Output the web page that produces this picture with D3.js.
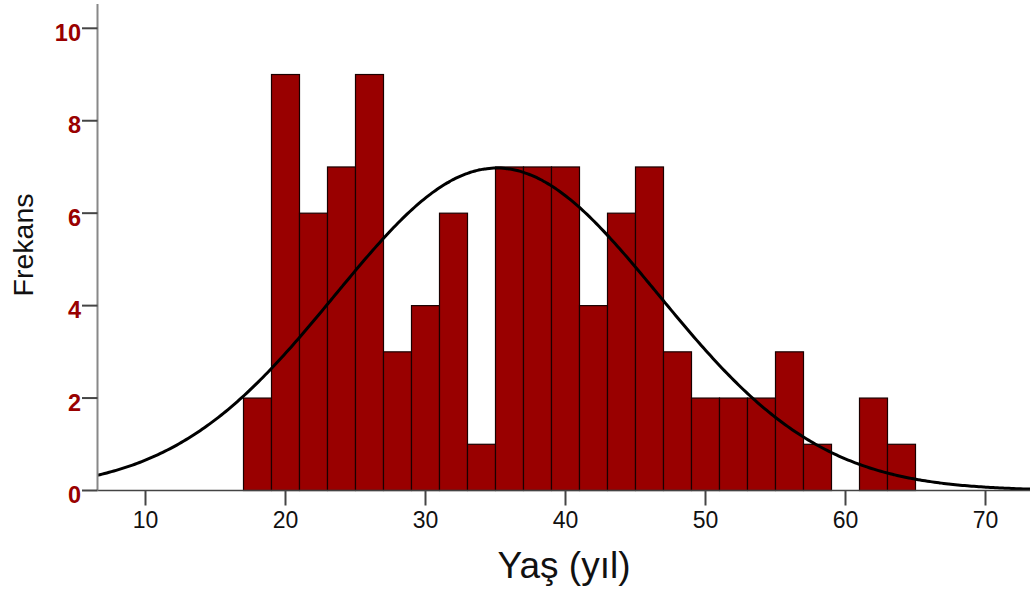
<!DOCTYPE html>
<html><head><meta charset="utf-8">
<script src="https://cdn.jsdelivr.net/npm/d3@7"></script>
<style>body{margin:0;background:#fff}svg{display:block;font-family:"Liberation Sans",Arial,sans-serif}</style>
</head><body>
<svg id="c" width="1030" height="592"></svg>
<script>
// Histogram bins (lower edge of each 2-year bin) and frequencies
const binStarts = [17,19,21,23,25,27,29,31,33,35,37,39,41,43,45,47,49,51,53,55,57,59,61,63];
const counts    = [ 2, 9, 6, 7, 9, 3, 4, 6, 1, 7, 7, 7, 4, 6, 7, 3, 2, 2, 2, 3, 1, 0, 2, 1];
const binWidth = 2;
const xTicks = [10,20,30,40,50,60,70];
const yTicks = [0,2,4,6,8,10];
// Normal curve parameters
const fitMean = 35.1;
const fitSD = 11.55;

const svg = d3.select("#c");
const x = d3.scaleLinear().domain([10,70]).range([145.5,985.5]);
const y = d3.scaleLinear().domain([0,10]).range([490.5,28.3]);
const xMin = x.invert(97.5), xMax = x.invert(1030);

// bars
svg.append("g").selectAll("rect").data(binStarts.map((s,i)=>({s,c:counts[i]})).filter(d=>d.c>0))
  .join("rect")
  .attr("x",d=>x(d.s)).attr("width",d=>x(d.s+binWidth)-x(d.s))
  .attr("y",d=>y(d.c)).attr("height",d=>y(0)-y(d.c))
  .attr("fill","#990000").attr("stroke","#1a0000").attr("stroke-width",1.2);

// normal curve
const N = d3.sum(counts);
const pts = d3.range(0,401).map(i=>xMin+(xMax-xMin)*i/400);
const dens = v => N*binWidth/(fitSD*Math.sqrt(2*Math.PI))*Math.exp(-((v-fitMean)**2)/(2*fitSD*fitSD));
svg.append("path").datum(pts)
  .attr("d",d3.line().x(v=>x(v)).y(v=>y(dens(v))).curve(d3.curveBasis))
  .attr("fill","none").attr("stroke","#000").attr("stroke-width",3);

// x axis
svg.append("line").attr("x1",97.5).attr("x2",1030).attr("y1",y(0)).attr("y2",y(0))
  .attr("stroke","#444").attr("stroke-width",1.5);
const xg = svg.append("g");
xg.selectAll("line").data(xTicks).join("line")
  .attr("x1",d=>x(d)).attr("x2",d=>x(d)).attr("y1",y(0)).attr("y2",y(0)+15)
  .attr("stroke","#444").attr("stroke-width",2);
xg.selectAll("text").data(xTicks).join("text")
  .attr("x",d=>x(d)).attr("y",528).attr("text-anchor","middle")
  .attr("font-size",23).attr("fill","#111").text(d=>d);

// y axis
svg.append("line").attr("x1",97.5).attr("x2",97.5).attr("y1",4).attr("y2",y(0))
  .attr("stroke","#888").attr("stroke-width",2);
const yg = svg.append("g");
yg.selectAll("line").data(yTicks).join("line")
  .attr("x1",82).attr("x2",97.5).attr("y1",d=>y(d)).attr("y2",d=>y(d))
  .attr("stroke","#444").attr("stroke-width",2);
yg.selectAll("text").data(yTicks).join("text")
  .attr("x",81).attr("y",d=>y(d)+12.5).attr("text-anchor","end")
  .attr("font-size",23.5).attr("font-weight","bold").attr("fill","#990000").text(d=>d);

// axis titles
svg.append("text").attr("x",564).attr("y",578).attr("text-anchor","middle")
  .attr("font-size",37).attr("fill","#111").text("Yaş (yıl)");
svg.append("text").attr("transform","translate(33,245) rotate(-90)").attr("text-anchor","middle")
  .attr("font-size",28.5).attr("fill","#111").text("Frekans");
</script>
</body></html>
